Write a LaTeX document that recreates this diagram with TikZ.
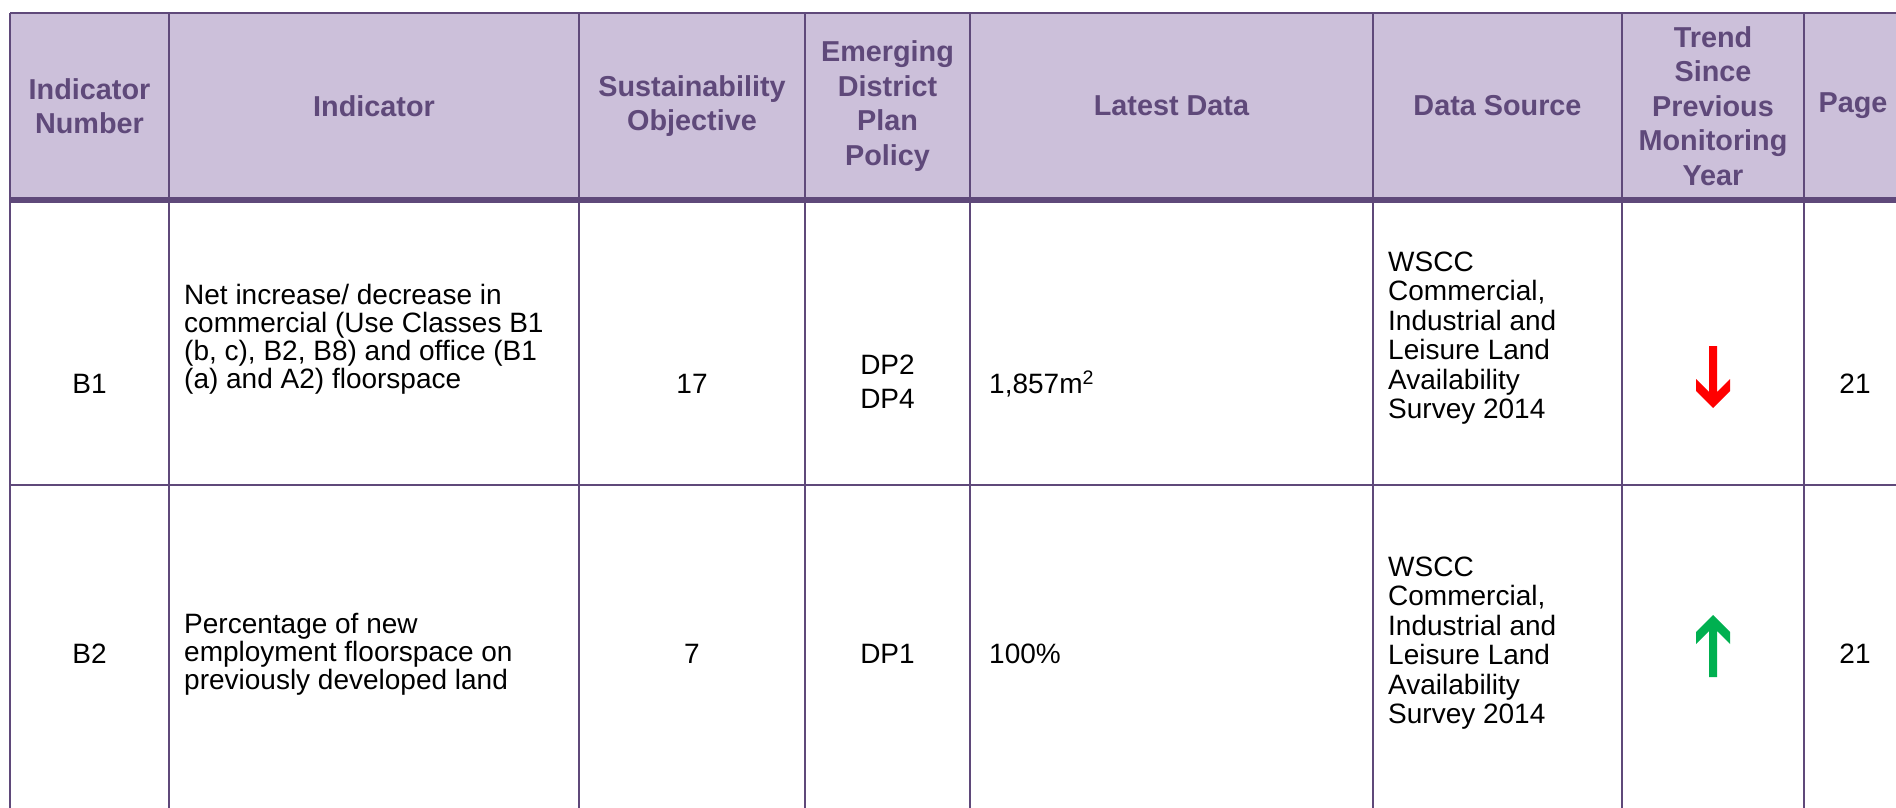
\documentclass[tikz,border=0pt]{standalone}
\usepackage{fontspec}
\setmainfont{Liberation Sans}
\definecolor{hdrfill}{HTML}{CCC0DA}
\definecolor{ruleclr}{HTML}{5F497A}
\definecolor{upgreen}{HTML}{00B050}
\definecolor{downred}{HTML}{FF0000}
\begin{document}
\begin{tikzpicture}[x=1pt,y=-1pt,
  hdr/.style={font=\fontsize{28.8}{34.5}\selectfont\bfseries, text=ruleclr, align=center, inner sep=0pt},
  body/.style={font=\fontsize{28}{29.5}\selectfont, text=black, inner sep=0pt},
  bodyl/.style={body, align=left, anchor=west},
  bodyc/.style={body, align=center},
  indtext/.style={bodyl, font=\fontsize{28}{28}\selectfont},
  policy/.style={bodyc, font=\fontsize{28}{34}\selectfont},
  gridline/.style={draw=ruleclr, line width=2pt},
  headrule/.style={draw=ruleclr, line width=6pt}]
\useasboundingbox (0,0) rectangle (1896,808);
% header background
\fill[hdrfill] (10,13) rectangle (1904,200);
% grid
\draw[gridline] (10,13) -- (1904,13);
\draw[gridline] (10,485) -- (1904,485);
\foreach \x in {10,169,579,805,970,1373,1622,1804}
  \draw[gridline] (\x,13) -- (\x,830);
\draw[headrule] (9,200) -- (1904,200);
% header
\node[hdr] (h1) at (89.5,106) {Indicator\\Number};
\node[hdr] (h2) at (374,106) {Indicator};
\node[hdr] (h3) at (692,106) {Sustainability\\Objective};
\node[hdr] (h4) at (887.5,106) {Emerging\\District\\Plan\\Policy};
\node[hdr] (h5) at (1171.5,106) {Latest Data};
\node[hdr] (h6) at (1497.5,106) {Data Source};
\node[hdr] (h7) at (1713,106) {Trend\\Since\\Previous\\Monitoring\\Year};
\node[hdr] (h8) at (1853,106) {Page};
% row 1
\node[bodyc] (b1) at (89.5,384) {B1};
\node[indtext] (i1) at (184,339) {Net increase/ decrease in\\commercial (Use Classes B1\\(b, c), B2, B8) and office (B1\\(a) and A2) floorspace};
\node[bodyc] (s1) at (692,384) {17};
\node[policy] (p1) at (887.5,382) {DP2\\DP4};
\node[bodyl] (l1) at (989,384) {1,857m\textsuperscript{2}};
\node[bodyl] (d1) at (1388,338) {WSCC\\Commercial,\\Industrial and\\Leisure Land\\Availability\\Survey 2014};
\coordinate (t1) at (1713,377);
\node[bodyc] (g1) at (1855,384) {21};
\fill[downred, shift={(t1)}] (-4,-31) -- (4,-31) -- (4,15) -- (17,2) -- (17,14) -- (0,31) -- (-17,14) -- (-17,2) -- (-4,15) -- cycle;
% row 2
\node[bodyc] (b2) at (89.5,654) {B2};
\node[indtext] (i2) at (184,654) {Percentage of new\\employment floorspace on\\previously developed land};
\node[bodyc] (s2) at (692,654) {7};
\node[bodyc] (p2) at (887.5,654) {DP1};
\node[bodyl] (l2) at (989,654) {100\%};
\node[bodyl] (d2) at (1388,643) {WSCC\\Commercial,\\Industrial and\\Leisure Land\\Availability\\Survey 2014};
\coordinate (t2) at (1713,646);
\node[bodyc] (g2) at (1855,654) {21};
\fill[upgreen, shift={(t2)}] (-4,31) -- (4,31) -- (4,-15) -- (17,-2) -- (17,-14) -- (0,-31) -- (-17,-14) -- (-17,-2) -- (-4,-15) -- cycle;
\end{tikzpicture}
\end{document}
